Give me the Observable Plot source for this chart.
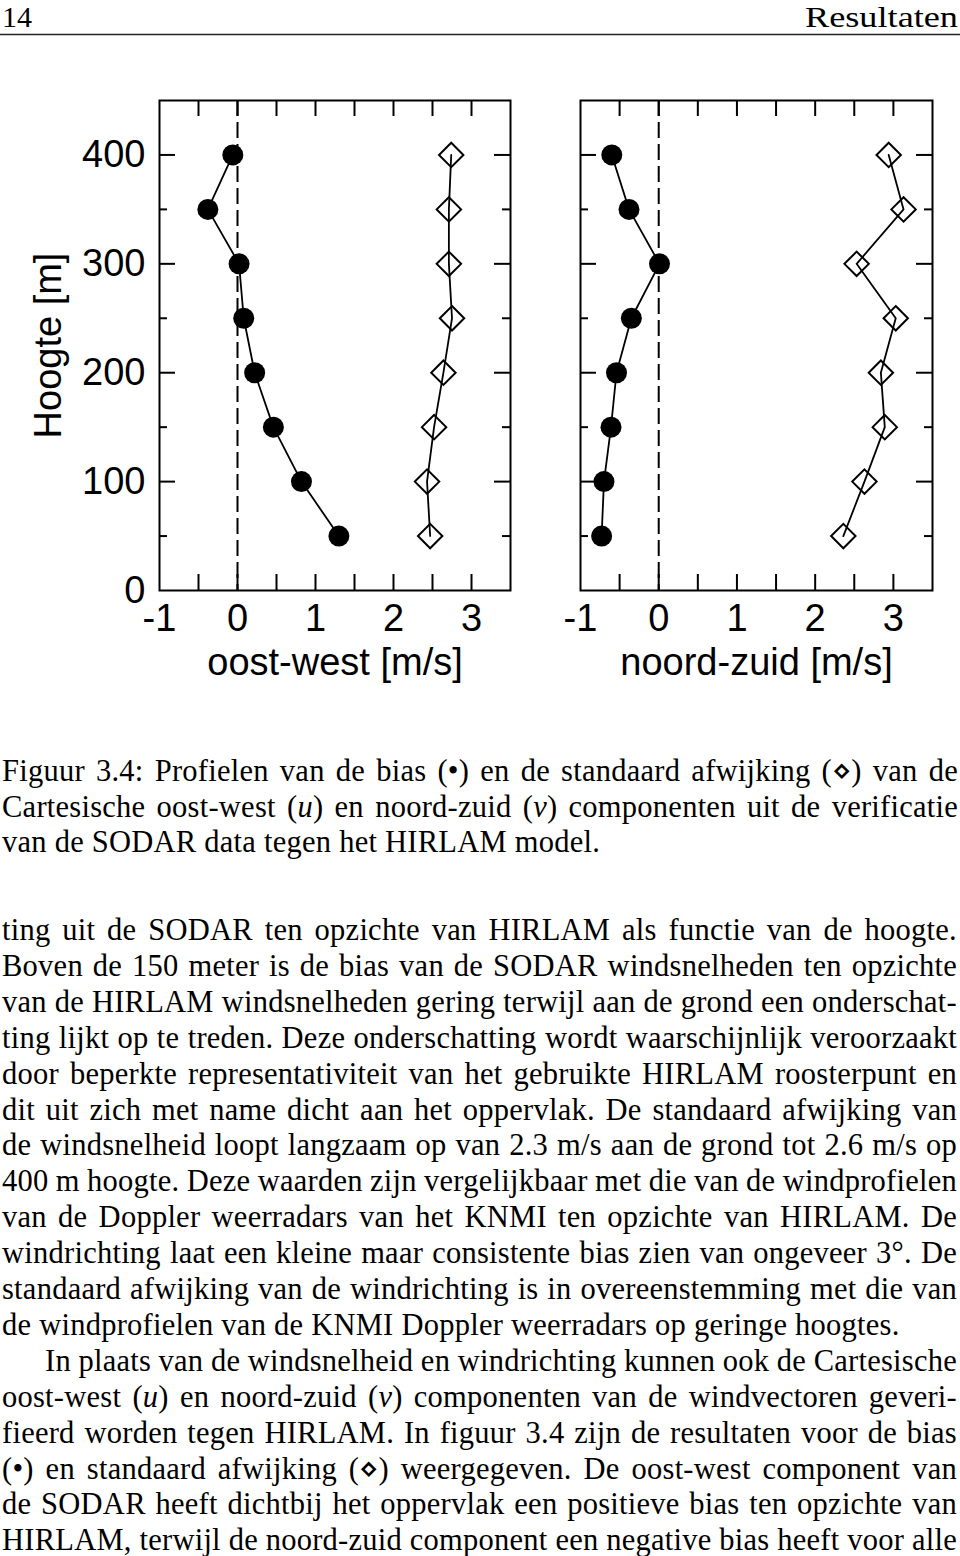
<!DOCTYPE html>
<html><head><meta charset="utf-8">
<script src="https://cdn.jsdelivr.net/npm/d3@7"></script>
<script src="https://cdn.jsdelivr.net/npm/@observablehq/plot@0.6"></script>
<style>
html,body{margin:0;padding:0;background:#fff;}
#page{position:relative;width:960px;height:1556px;overflow:hidden;background:#fff;}
#text{position:absolute;left:0;top:0;}
.panel{position:absolute;top:40px;}
</style></head>
<body><div id="page"><svg id="text" width="960" height="1556" xmlns="http://www.w3.org/2000/svg"></svg></div>
<script>
// ---- data ----
const heights = [50, 100, 150, 200, 250, 300, 350, 400];
const owBias = [1.30, 0.82, 0.46, 0.22, 0.08, 0.02, -0.38, -0.06];
const owStd  = [2.47, 2.43, 2.52, 2.64, 2.75, 2.71, 2.71, 2.74];
const nzBias = [-0.73, -0.70, -0.61, -0.54, -0.35, 0.01, -0.38, -0.60];
const nzStd  = [2.36, 2.63, 2.89, 2.84, 3.03, 2.53, 3.13, 2.94];
const xTickLabels = [-1, 0, 1, 2, 3];
const yTickLabels = [0, 100, 200, 300, 400];
const xTickMarks = [-0.5, 0, 0.5, 1, 1.5, 2, 2.5, 3];
const yMajorMarks = [100, 200, 300, 400];
const yMinorMarks = [50, 150, 250, 350];
const xTitles = ["oost-west [m/s]", "noord-zuid [m/s]"];
const yTitle = "Hoogte [m]";

const headerLeft = "14";
const headerRight = "Resultaten";
const captionLines = [
  "Figuur 3.4: Profielen van de bias (•) en de standaard afwijking (⋄) van de",
  "Cartesische oost-west (*u*) en noord-zuid (*v*) componenten uit de verificatie",
  "van de SODAR data tegen het HIRLAM model."
];
const bodyLines = [
  "ting uit de SODAR ten opzichte van HIRLAM als functie van de hoogte.",
  "Boven de 150 meter is de bias van de SODAR windsnelheden ten opzichte",
  "van de HIRLAM windsnelheden gering terwijl aan de grond een onderschat-",
  "ting lijkt op te treden. Deze onderschatting wordt waarschijnlijk veroorzaakt",
  "door beperkte representativiteit van het gebruikte HIRLAM roosterpunt en",
  "dit uit zich met name dicht aan het oppervlak. De standaard afwijking van",
  "de windsnelheid loopt langzaam op van 2.3 m/s aan de grond tot 2.6 m/s op",
  "400 m hoogte. Deze waarden zijn vergelijkbaar met die van de windprofielen",
  "van de Doppler weerradars van het KNMI ten opzichte van HIRLAM. De",
  "windrichting laat een kleine maar consistente bias zien van ongeveer 3°. De",
  "standaard afwijking van de windrichting is in overeenstemming met die van",
  "de windprofielen van de KNMI Doppler weerradars op geringe hoogtes.",
  "In plaats van de windsnelheid en windrichting kunnen ook de Cartesische",
  "oost-west (*u*) en noord-zuid (*v*) componenten van de windvectoren geveri-",
  "fieerd worden tegen HIRLAM. In figuur 3.4 zijn de resultaten voor de bias",
  "(•) en standaard afwijking (⋄) weergegeven. De oost-west component van",
  "de SODAR heeft dichtbij het oppervlak een positieve bias ten opzichte van",
  "HIRLAM, terwijl de noord-zuid component een negative bias heeft voor alle"
];
const bodyLast = [11];      // paragraph-final lines (not justified)
const bodyIndent = [12];    // indented lines

// ---- panels ----
const page = document.getElementById("page");
function panel({bias, std, xTitle, left, width, marginLeft, marginRight, showY}) {
  const H = 660, mt = 60, mb = 110;
  const fw = width - marginLeft - marginRight, fh = H - mt - mb;
  const rows = heights.map((h, i) => ({h, bias: bias[i], std: std[i]}));
  const marks = [
    Plot.ruleX([0], {strokeDasharray: "16,6", strokeWidth: 2}),
    Plot.tickX(xTickMarks, {x: d => d, insetTop: fh - 16, strokeWidth: 2}),
    Plot.tickX(xTickMarks, {x: d => d, insetBottom: fh - 16, strokeWidth: 2}),
    Plot.tickY(yMajorMarks, {y: d => d, insetRight: fw - 16, strokeWidth: 2}),
    Plot.tickY(yMinorMarks, {y: d => d, insetRight: fw - 8, strokeWidth: 2}),
    Plot.tickY(yMajorMarks, {y: d => d, insetLeft: fw - 16, strokeWidth: 2}),
    Plot.tickY(yMinorMarks, {y: d => d, insetLeft: fw - 8, strokeWidth: 2}),
    Plot.frame({strokeWidth: 2}),
    Plot.axisX(xTickLabels, {tickSize: 0, tickPadding: 14, fontSize: 38, label: null, tickFormat: d => String(d)}),
    Plot.text([xTitle], {text: d => d, frameAnchor: "bottom", lineAnchor: "middle", textAnchor: "middle", dy: 72, fontSize: 38}),
    Plot.dot(rows, {x: "std", y: "h", symbol: "diamond2", r: 11, fill: "none", stroke: "black", strokeWidth: 2}),
    Plot.line(rows, {x: "std", y: "h", stroke: "black", strokeWidth: 1.8}),
    Plot.line(rows, {x: "bias", y: "h", stroke: "black", strokeWidth: 1.8}),
    Plot.dot(rows, {x: "bias", y: "h", r: 10.5, fill: "black", stroke: "none"})
  ];
  if (showY) {
    marks.push(Plot.axisY(yTickLabels, {tickSize: 0, tickPadding: 14, fontSize: 38, label: null}));
    marks.push(Plot.text([yTitle], {text: d => d, frameAnchor: "left", lineAnchor: "middle", textAnchor: "middle", rotate: -90, dx: -111, fontSize: 38}));
  }
  const chart = Plot.plot({
    width, height: H,
    marginLeft, marginRight, marginTop: mt, marginBottom: mb,
    x: {domain: [-1, 3.5], axis: null},
    y: {domain: [0, 450], axis: null},
    style: {fontFamily: "'Liberation Sans', Arial, sans-serif", background: "transparent", overflow: "visible", color: "black"},
    marks
  });
  chart.classList.add("panel");
  chart.style.left = left + "px";
  chart.style.maxWidth = "none";
  page.appendChild(chart);
}
panel({bias: owBias, std: owStd, xTitle: xTitles[0], left: 0, width: 520, marginLeft: 159, marginRight: 10, showY: true});
panel({bias: nzBias, std: nzStd, xTitle: xTitles[1], left: 520, width: 440, marginLeft: 60, marginRight: 28, showY: false});

// ---- page text ----
const NS = "http://www.w3.org/2000/svg";
const tsvg = document.getElementById("text");
tsvg.style.fontFamily = "'Liberation Serif', 'Times New Roman', serif";
function addLine(str, x, y, size, justifyTo, opts = {}) {
  const t = document.createElementNS(NS, "text");
  t.setAttribute("x", x);
  t.setAttribute("y", y);
  t.setAttribute("font-size", size);
  if (opts.anchor) t.setAttribute("text-anchor", opts.anchor);
  if (opts.textLength) { t.setAttribute("textLength", opts.textLength); t.setAttribute("lengthAdjust", "spacingAndGlyphs"); }
  if (opts.letterSpacing) t.style.letterSpacing = opts.letterSpacing + "px";
  str.split("*").forEach((seg, i) => {
    const s = document.createElementNS(NS, "tspan");
    if (i % 2 === 1) s.setAttribute("font-style", "italic");
    s.textContent = seg;
    t.appendChild(s);
  });
  tsvg.appendChild(t);
  if (justifyTo) {
    const len = t.getComputedTextLength();
    const n = str.split(" ").length - 1;
    if (n > 0) t.style.wordSpacing = ((justifyTo - x - len) / n) + "px";
  }
  return t;
}
addLine(headerLeft, 2, 27, 30);
addLine(headerRight, 958, 27, 30, null, {anchor: "end", textLength: 153});
const rule = document.createElementNS(NS, "line");
rule.setAttribute("x1", 0); rule.setAttribute("x2", 960);
rule.setAttribute("y1", 34.5); rule.setAttribute("y2", 34.5);
rule.setAttribute("stroke", "#222"); rule.setAttribute("stroke-width", 1.6);
tsvg.appendChild(rule);

const fs = 30.5, ls = 0.25;
captionLines.forEach((l, i) => {
  addLine(l, 2, 781 + i * 35.5, fs, i < captionLines.length - 1 ? 958 : null, {letterSpacing: ls});
});
bodyLines.forEach((l, i) => {
  const x = bodyIndent.includes(i) ? 45 : 2;
  addLine(l, x, 940 + i * 35.9, fs, bodyLast.includes(i) ? null : 957, {letterSpacing: ls});
});
</script>
</body></html>
